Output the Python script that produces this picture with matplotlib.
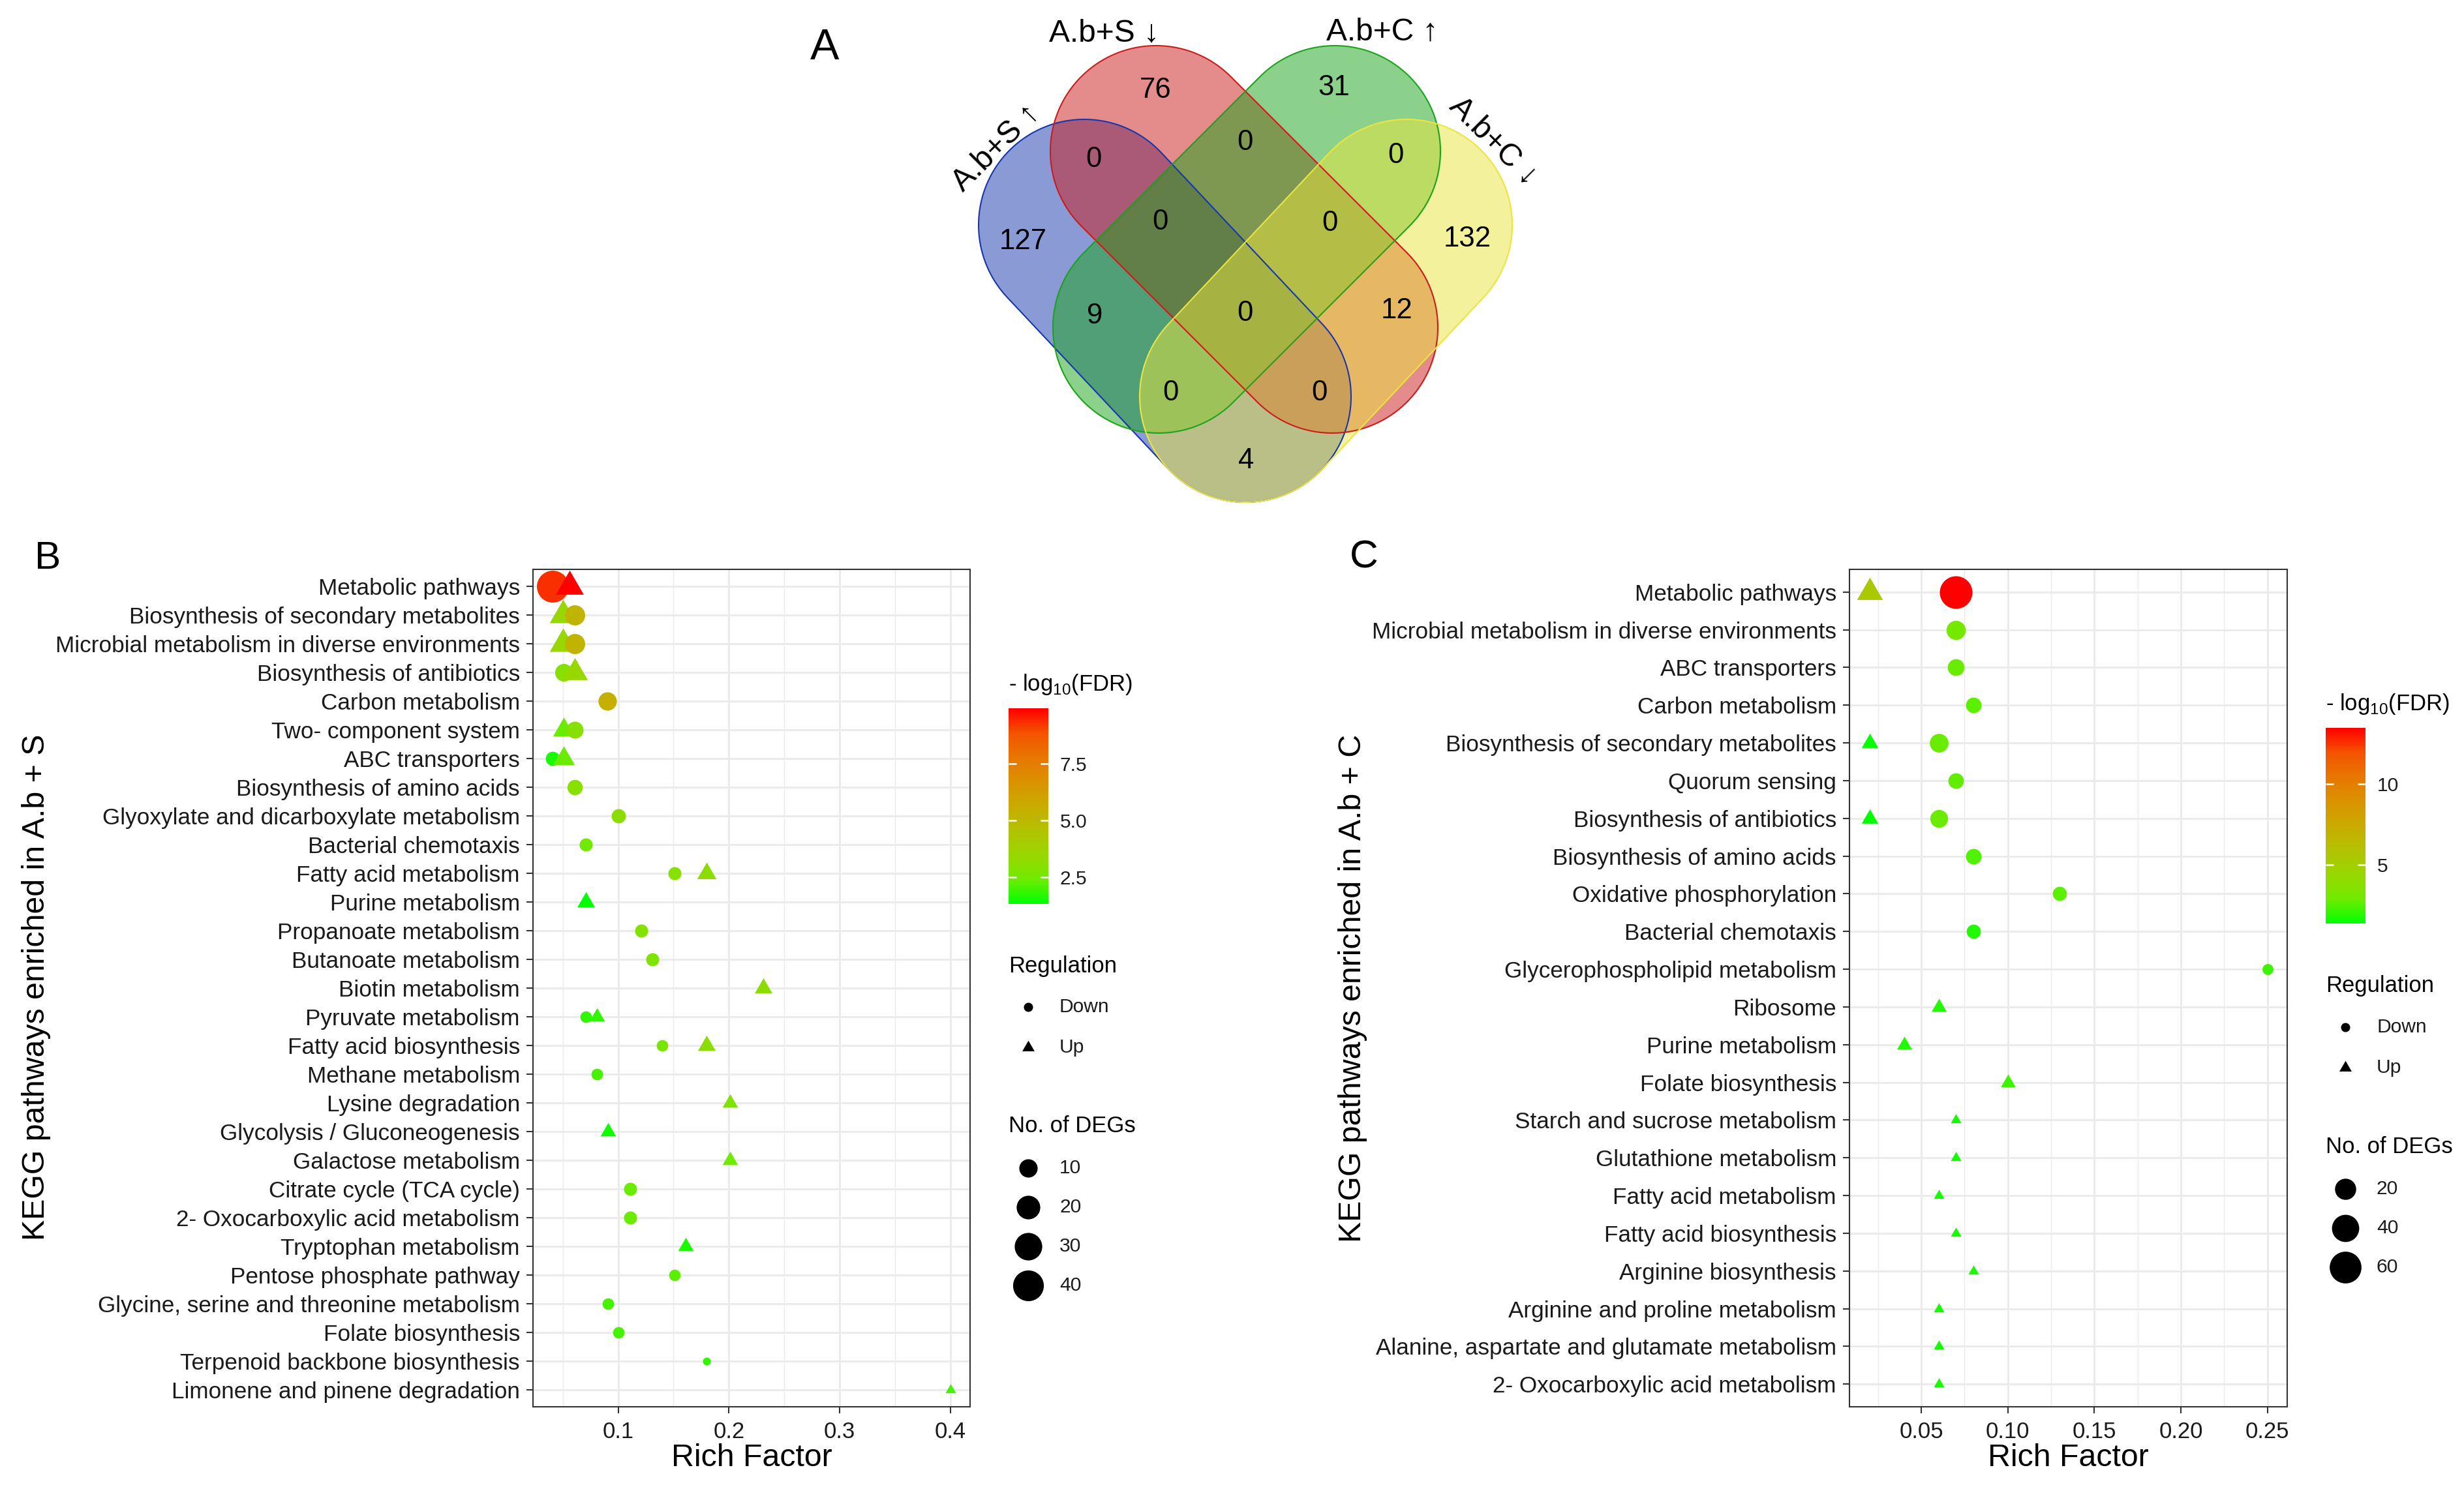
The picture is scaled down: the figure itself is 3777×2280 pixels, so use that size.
import numpy as np
import matplotlib
matplotlib.use('Agg')
import matplotlib.pyplot as plt
from matplotlib.patches import Polygon
from matplotlib.colors import LinearSegmentedColormap, Normalize
from matplotlib.cm import ScalarMappable

plt.rcParams['font.family'] = ['Liberation Sans', 'DejaVu Sans']
plt.rcParams['mathtext.fontset'] = 'custom'
plt.rcParams['mathtext.rm'] = 'Liberation Sans'

W, H, DPI = 3777, 2280, 300
PT = 72 / DPI  # points per pixel

# ---------------- panel A: Venn counts ----------------
venn_names = ['A.b+S ↑', 'A.b+S ↓', 'A.b+C ↑', 'A.b+C ↓']
# S↑, S↓, C↑, C↓, S↑S↓, S↓C↑, C↑C↓, S↑S↓C↑, S↓C↑C↓, S↑C↑, all, S↓C↓, S↑C↑C↓, S↑S↓C↓, S↑C↓
venn_counts = [127, 76, 31, 132, 0, 0, 0, 0, 0, 9, 0, 12, 0, 0, 4]

# ---------------- panel B: A.b + S ----------------
b_pathways = ['Metabolic pathways', 'Biosynthesis of secondary metabolites',
              'Microbial metabolism in diverse environments', 'Biosynthesis of antibiotics',
              'Carbon metabolism', 'Two- component system', 'ABC transporters',
              'Biosynthesis of amino acids', 'Glyoxylate and dicarboxylate metabolism',
              'Bacterial chemotaxis', 'Fatty acid metabolism', 'Purine metabolism',
              'Propanoate metabolism', 'Butanoate metabolism', 'Biotin metabolism',
              'Pyruvate metabolism', 'Fatty acid biosynthesis', 'Methane metabolism',
              'Lysine degradation', 'Glycolysis / Gluconeogenesis', 'Galactose metabolism',
              'Citrate cycle (TCA cycle)', '2- Oxocarboxylic acid metabolism',
              'Tryptophan metabolism', 'Pentose phosphate pathway',
              'Glycine, serine and threonine metabolism', 'Folate biosynthesis',
              'Terpenoid backbone biosynthesis', 'Limonene and pinene degradation']
b_idx = [0, 0, 1, 1, 2, 2, 3, 3, 4, 5, 5, 6, 6, 7, 8, 9, 10, 10, 11, 12, 13, 14,
         15, 15, 16, 16, 17, 18, 19, 20, 21, 22, 23, 24, 25, 26, 27, 28]
b_reg = ['Down', 'Up', 'Up', 'Down', 'Up', 'Down', 'Down', 'Up', 'Down', 'Up', 'Down',
         'Down', 'Up', 'Down', 'Down', 'Down', 'Down', 'Up', 'Up', 'Down', 'Down', 'Up',
         'Down', 'Up', 'Down', 'Up', 'Down', 'Up', 'Up', 'Up', 'Down', 'Down', 'Up',
         'Down', 'Down', 'Down', 'Down', 'Up']
b_rich = [0.041, 0.056, 0.050, 0.061, 0.050, 0.061, 0.051, 0.061, 0.090, 0.051, 0.061,
          0.041, 0.051, 0.061, 0.100, 0.071, 0.151, 0.180, 0.071, 0.121, 0.131, 0.231,
          0.071, 0.081, 0.140, 0.180, 0.081, 0.201, 0.091, 0.201, 0.111, 0.111, 0.161,
          0.151, 0.091, 0.100, 0.180, 0.400]
b_fdr = [9.35, 9.96, 3.5, 5.2, 3.5, 5.2, 3.0, 3.5, 5.4, 2.35, 3.0,
         1.55, 2.35, 3.0, 3.2, 2.4, 3.0, 3.2, 1.31, 2.9, 2.8, 3.2,
         1.8, 1.75, 2.6, 3.2, 2.0, 2.8, 1.5, 2.4, 2.35, 2.35, 1.55,
         2.2, 2.0, 2.0, 1.8, 2.0]
b_deg = [44, 14, 13, 13, 13, 13, 9, 11, 10, 7, 8,
         5, 7, 6, 5, 4, 4, 5, 4, 4, 4, 4,
         3, 3, 3, 4, 3, 3, 3, 3, 4, 4, 3,
         3, 3, 3, 2, 2]

# ---------------- panel C: A.b + C ----------------
c_pathways = ['Metabolic pathways', 'Microbial metabolism in diverse environments',
              'ABC transporters', 'Carbon metabolism', 'Biosynthesis of secondary metabolites',
              'Quorum sensing', 'Biosynthesis of antibiotics', 'Biosynthesis of amino acids',
              'Oxidative phosphorylation', 'Bacterial chemotaxis',
              'Glycerophospholipid metabolism', 'Ribosome', 'Purine metabolism',
              'Folate biosynthesis', 'Starch and sucrose metabolism', 'Glutathione metabolism',
              'Fatty acid metabolism', 'Fatty acid biosynthesis', 'Arginine biosynthesis',
              'Arginine and proline metabolism', 'Alanine, aspartate and glutamate metabolism',
              '2- Oxocarboxylic acid metabolism']
c_idx = [0, 0, 1, 2, 3, 4, 4, 5, 6, 6, 7, 8, 9, 10, 11, 12, 13, 14, 15, 16, 17, 18, 19, 20, 21]
c_reg = ['Up', 'Down', 'Down', 'Down', 'Down', 'Up', 'Down', 'Down', 'Up', 'Down', 'Down',
         'Down', 'Down', 'Down', 'Up', 'Up', 'Up', 'Up', 'Up', 'Up', 'Up', 'Up', 'Up', 'Up', 'Up']
c_rich = [0.02, 0.07, 0.07, 0.07, 0.08, 0.02, 0.06, 0.07, 0.02, 0.06, 0.08,
          0.13, 0.08, 0.25, 0.06, 0.04, 0.10, 0.07, 0.07, 0.06, 0.07, 0.08, 0.06, 0.06, 0.06]
c_fdr = [5.4, 13.47, 3.1, 2.8, 2.6, 1.5, 2.8, 2.7, 1.37, 2.8, 2.5,
         2.6, 1.85, 2.2, 1.85, 1.85, 2.2, 1.7, 1.7, 1.7, 1.7, 1.75, 1.7, 1.7, 1.7]
c_deg = [15, 64, 15, 10, 8, 4, 14, 8, 4, 12, 8,
         6, 6, 3, 3, 3, 3, 2, 2, 2, 2, 2, 2, 2, 2]

# ---------------- styling ----------------
cmap = LinearSegmentedColormap.from_list('fdr', [
    (0.0, '#00FF00'), (0.125, '#70EB00'), (0.25, '#98D700'), (0.375, '#B3C200'),
    (0.5, '#C9AB00'), (0.625, '#DA9200'), (0.75, '#E87600'), (0.875, '#F45300'),
    (1.0, '#FF0000')])
TRI = [(0, 1), (-0.866, -0.5), (0.866, -0.5)]   # equilateral, like R pch 17
TRI_SCALE = 1.555
GRID = '#EBEBEB'
DARK = '#333333'
TXT = '#1A1A1A'


def rect(x0, y0, x1, y1):
    return [x0 / W, 1 - y1 / H, (x1 - x0) / W, (y1 - y0) / H]


def dot_diam(n, nmin, nmax, dmin, dmax):
    # ggplot scale_size: area-like mapping, returns diameter in px
    return dmin + (dmax - dmin) * np.sqrt((n - nmin) / (nmax - nmin))


def capsule(c1, c2, r, n=80):
    c1 = np.asarray(c1, float)
    c2 = np.asarray(c2, float)
    ang = np.arctan2(c2[1] - c1[1], c2[0] - c1[0])
    t2 = np.linspace(ang - np.pi / 2, ang + np.pi / 2, n)
    t1 = np.linspace(ang + np.pi / 2, ang + 3 * np.pi / 2, n)
    return np.vstack([c2 + r * np.c_[np.cos(t2), np.sin(t2)],
                      c1 + r * np.c_[np.cos(t1), np.sin(t1)]])


fig = plt.figure(figsize=(W / DPI, H / DPI), dpi=DPI)
ov = fig.add_axes([0, 0, 1, 1])
ov.set_xlim(0, W)
ov.set_ylim(H, 0)
ov.axis('off')

# ---------------- Venn ----------------
venn_fill = ['#1537AB', '#CB1B1B', '#19A519', '#EBE53D']
venn_ends = [((1662, 345), (1909, 608)), ((1772, 232), (2042, 502)),
             ((2046, 232), (1776, 502)), ((2156, 345), (1909, 608))]
VR = 162
for (c1, c2), col in zip(venn_ends, venn_fill):
    ov.add_patch(Polygon(capsule(c1, c2, VR), closed=True, facecolor=col, alpha=0.5,
                         edgecolor='none'))
for (c1, c2), col in zip(venn_ends, venn_fill):
    ov.add_patch(Polygon(capsule(c1, c2, VR), closed=True, fill=False, edgecolor=col,
                         lw=0.5))

venn_xy = [(1568, 370), (1771, 138), (2045, 135), (2249, 367), (1676, 245), (1908, 219),
           (2139, 238), (1778, 341), (2038, 343), (1678, 485), (1908, 480), (2141, 477),
           (1794, 602), (2022, 602), (1910, 707)]
for (x, y), n in zip(venn_xy, venn_counts):
    ov.text(x, y, str(n), fontsize=10.5, ha='center', va='center')

venn_label_xy = [(1527, 226), (1692, 51), (2119, 49), (2289, 217)]
venn_label_rot = [45, 0, 0, -45]
for (x, y), r, s in zip(venn_label_xy, venn_label_rot, venn_names):
    ov.text(x, y, s, fontsize=11.5, ha='center', va='center', rotation=r,
            rotation_mode='anchor')

ov.text(1264, 74, 'A', fontsize=16, ha='center', va='center')
ov.text(73, 857, 'B', fontsize=14.5, ha='center', va='center')
ov.text(2091, 855, 'C', fontsize=14.5, ha='center', va='center')


# ---------------- dot plots ----------------
def dot_panel(box, pathways, idx, reg, rich, fdr, deg, ticks, fmt, minor, d_lim):
    ax = fig.add_axes(rect(*box))
    n = len(pathways)
    norm = Normalize(min(fdr), max(fdr))
    for i in range(len(idx)):
        d = dot_diam(deg[i], min(deg), max(deg), *d_lim)
        col = cmap(norm(fdr[i]))
        if reg[i] == 'Up':
            ax.scatter(rich[i], idx[i], s=(TRI_SCALE * d * PT) ** 2, marker=TRI,
                       color=col, linewidths=0, zorder=3)
        else:
            ax.scatter(rich[i], idx[i], s=(d * PT) ** 2, marker='o',
                       color=col, linewidths=0, zorder=3)
    lo, hi = min(rich), max(rich)
    pad = 0.05 * (hi - lo)
    ax.set_xlim(lo - pad, hi + pad)
    ax.set_ylim(n - 1 + 0.6, -0.6)
    ax.set_yticks(range(n))
    ax.set_yticklabels(pathways)
    ax.set_xticks(ticks)
    ax.set_xticklabels([fmt % t for t in ticks])
    ax.set_xticks(minor, minor=True)
    ax.grid(which='major', color=GRID, lw=0.7)
    ax.grid(which='minor', axis='x', color=GRID, lw=0.35)
    ax.set_axisbelow(True)
    ax.tick_params(which='major', length=2.4, width=0.5, color=DARK, labelcolor=TXT)
    ax.tick_params(axis='y', labelsize=8.45, pad=2.4)
    ax.tick_params(axis='x', labelsize=8.3, pad=2.9)
    ax.tick_params(which='minor', length=0)
    for sp in ax.spines.values():
        sp.set_color(DARK)
        sp.set_linewidth(0.5)
    ax.set_xlabel('Rich Factor', fontsize=11.6)
    ax.xaxis.set_label_coords(0.5, -79 / 1284)
    ax.xaxis.label.set_va('center')
    return norm


def side_legend(x, cb_top, reg_top, deg_top, norm, ticks, fmt, breaks, deg, d_lim):
    cax = fig.add_axes(rect(x, cb_top, x + 61, cb_top + 300))
    cb = fig.colorbar(ScalarMappable(norm=norm, cmap=cmap), cax=cax, ticks=ticks)
    cb.outline.set_visible(False)
    cax.set_yticklabels([fmt % t for t in ticks])
    cax.tick_params(direction='in', length=2.9, width=0.6, color='white', left=True,
                    right=True, labelsize=7.2, pad=4.3, labelcolor=TXT)
    ov.text(x, cb_top - 36, r'- log$_{\mathregular{10}}$(FDR)', fontsize=8.3, va='center')
    ov.text(x, reg_top, 'Regulation', fontsize=8.3, va='center')
    ov.scatter([x + 30], [reg_top + 63], s=(14 * PT) ** 2, marker='o', color='black',
               linewidths=0)
    ov.text(x + 78, reg_top + 63, 'Down', fontsize=7.2, va='center', color=TXT)
    ov.scatter([x + 30], [reg_top + 125], s=(TRI_SCALE * 14 * PT) ** 2, marker=TRI,
               color='black', linewidths=0)
    ov.text(x + 78, reg_top + 125, 'Up', fontsize=7.2, va='center', color=TXT)
    ov.text(x, deg_top, 'No. of DEGs', fontsize=8.3, va='center')
    for k, v in enumerate(breaks):
        yy = deg_top + 64 + 60 * k
        d = dot_diam(v, min(deg), max(deg), *d_lim)
        ov.scatter([x + 30], [yy], s=(d * PT) ** 2, marker='o', color='black', linewidths=0)
        ov.text(x + 78, yy, str(v), fontsize=7.2, va='center', color=TXT)


b_norm = dot_panel((817, 873, 1487, 2157), b_pathways, b_idx, b_reg, b_rich, b_fdr, b_deg,
                   [0.1, 0.2, 0.3, 0.4], '%.1f', [0.05, 0.15, 0.25, 0.35], (12, 49))
c_norm = dot_panel((2835, 873, 3506, 2157), c_pathways, c_idx, c_reg, c_rich, c_fdr, c_deg,
                   [0.05, 0.10, 0.15, 0.20, 0.25], '%.2f',
                   [0.025, 0.075, 0.125, 0.175, 0.225], (12, 50))

side_legend(1546, 1086, 1481, 1727, b_norm, [2.5, 5.0, 7.5], '%.1f', [10, 20, 30, 40],
            b_deg, (12, 49))
side_legend(3565, 1116, 1512, 1759, c_norm, [5, 10], '%d', [20, 40, 60], c_deg, (12, 50))

fig.text(56 / W, 1 - 1514 / H, 'KEGG pathways enriched in A.b + S', fontsize=11.6,
         rotation=90, ha='center', va='center')
fig.text(2073 / W, 1 - 1515 / H, 'KEGG pathways enriched in A.b + C', fontsize=11.6,
         rotation=90, ha='center', va='center')

fig.savefig('out.png', dpi=DPI)
